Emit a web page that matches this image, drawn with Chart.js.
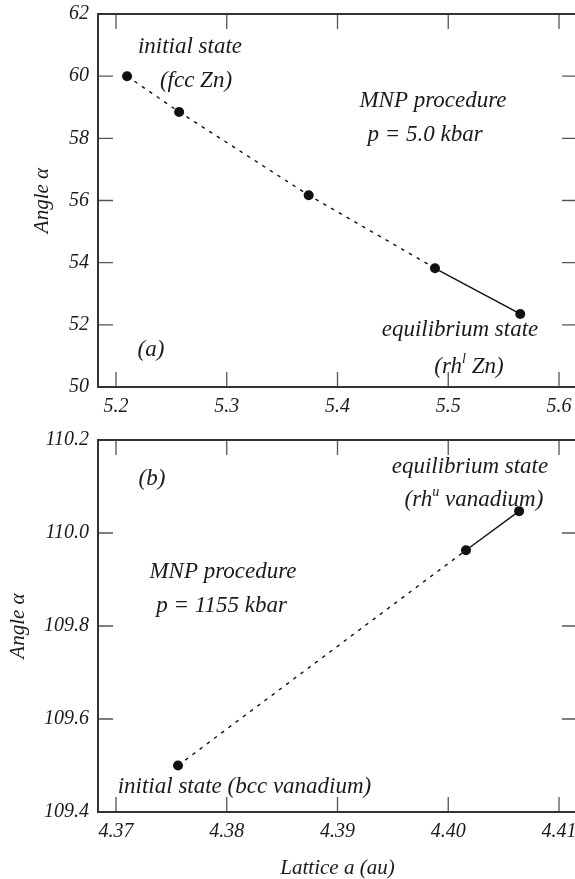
<!DOCTYPE html>
<html>
<head>
<meta charset="utf-8">
<script src="https://cdn.jsdelivr.net/npm/chart.js@4.4.1/dist/chart.umd.min.js"></script>
<style>
  html, body { margin: 0; padding: 0; background: #fff; overflow: hidden; }
  canvas { position: absolute; left: 0; }
  #zincChart { top: 0; }
  #vanadiumChart { top: 430px; }
</style>
</head>
<body>
<canvas id="zincChart" width="600" height="430"></canvas>
<canvas id="vanadiumChart" width="600" height="449"></canvas>
<script>
// panel (a): fcc Zn -> rh Zn, p = 5.0 kbar
const zincLattice = [5.210, 5.257, 5.374, 5.488, 5.565];
const zincAngle = [60.00, 58.85, 56.17, 53.82, 52.35];
const zincXTicks = [5.2, 5.3, 5.4, 5.5, 5.6];
const zincYTicks = [50, 52, 54, 56, 58, 60, 62];

// panel (b): bcc V -> rh V, p = 1155 kbar
const vanadiumLattice = [4.3756, 4.4016, 4.4064];
const vanadiumAngle = [109.500, 109.963, 110.047];
const vanadiumXTicks = [4.37, 4.38, 4.39, 4.40, 4.41];
const vanadiumYTicks = [109.4, 109.6, 109.8, 110.0, 110.2];

const SERIF = "'Liberation Serif', 'Times New Roman', serif";
const INK = "#1a1a1a";

// text labels inside the plots, anchored in data units (centre, baseline)
const zincNotes = [
  { x: 5.2668, y: 60.74, parts: [["initial state"]] },
  { x: 5.2722, y: 59.64, parts: [["(fcc Zn)"]] },
  { x: 5.4862, y: 59.00, parts: [["MNP procedure"]] },
  { x: 5.4790, y: 57.93, parts: [["p = 5.0 kbar"]] },
  { x: 5.2316, y: 51.00, parts: [["(a)"]] },
  { x: 5.5106, y: 51.64, parts: [["equilibrium state"]] },
  { x: 5.5187, y: 50.46, parts: [["(rh"], ["l", true], [" Zn)"]] }
];
const vanadiumNotes = [
  { x: 4.37325, y: 110.103, parts: [["(b)"]] },
  { x: 4.40196, y: 110.129, parts: [["equilibrium state"]] },
  { x: 4.40232, y: 110.058, parts: [["(rh"], ["u", true], [" vanadium)"]] },
  { x: 4.37966, y: 109.903, parts: [["MNP procedure"]] },
  { x: 4.37953, y: 109.830, parts: [["p = 1155 kbar"]] },
  { x: 4.38160, y: 109.441, parts: [["initial state (bcc vanadium)"]] }
];

// box around the plot with inward ticks on all four sides
const framePlugin = {
  id: "frame",
  afterDatasetsDraw(chart) {
    const { ctx, chartArea: a, scales } = chart;
    ctx.save();
    ctx.strokeStyle = "#555";
    ctx.lineWidth = 1.3;
    ctx.beginPath();
    scales.x.ticks.forEach(t => {
      const px = scales.x.getPixelForValue(t.value);
      ctx.moveTo(px, a.bottom); ctx.lineTo(px, a.bottom - 15);
      ctx.moveTo(px, a.top); ctx.lineTo(px, a.top + 15);
    });
    scales.y.ticks.forEach(t => {
      const py = scales.y.getPixelForValue(t.value);
      ctx.moveTo(a.left, py); ctx.lineTo(a.left + 15, py);
      ctx.moveTo(a.right, py); ctx.lineTo(a.right - 15, py);
    });
    ctx.stroke();
    ctx.strokeStyle = "#333";
    ctx.lineWidth = 2;
    ctx.strokeRect(a.left, a.top, a.right - a.left, a.bottom - a.top);
    ctx.restore();
  }
};

function notesPlugin(notes) {
  return {
    id: "notes",
    afterDraw(chart) {
      const { ctx, scales } = chart;
      const big = "italic 23px " + SERIF;
      const small = "italic 14px " + SERIF;
      ctx.save();
      ctx.fillStyle = INK;
      ctx.textAlign = "left";
      ctx.textBaseline = "alphabetic";
      notes.forEach(n => {
        const px = scales.x.getPixelForValue(n.x);
        const py = scales.y.getPixelForValue(n.y);
        let total = 0;
        n.parts.forEach(p => { ctx.font = p[1] ? small : big; total += ctx.measureText(p[0]).width; });
        let x = px - total / 2;
        n.parts.forEach(p => {
          ctx.font = p[1] ? small : big;
          ctx.fillText(p[0], x, p[1] ? py - 10 : py);
          x += ctx.measureText(p[0]).width;
        });
      });
      ctx.restore();
    }
  };
}

function makeChart(id, xs, ys, opts) {
  const last = xs.length - 1;
  const tickFont = { family: SERIF, size: 20, style: "italic" };
  const titleFont = { family: SERIF, size: 21, style: "italic" };
  return new Chart(document.getElementById(id), {
    type: "scatter",
    data: {
      datasets: [{
        data: xs.map((x, i) => ({ x: x, y: ys[i] })),
        showLine: true,
        borderColor: "#111",
        borderWidth: 1.4,
        pointRadius: 5,
        pointBackgroundColor: "#111",
        pointBorderWidth: 0,
        segment: {
          borderDash: c => (c.p1DataIndex < last ? [3.5, 5.5] : [])
        }
      }]
    },
    options: {
      responsive: false,
      animation: false,
      layout: { padding: { left: 0, top: opts.top, right: 23, bottom: 0 } },
      plugins: { legend: { display: false }, tooltip: { enabled: false } },
      scales: {
        x: {
          type: "linear",
          min: opts.xMin,
          max: opts.xMax,
          afterBuildTicks: s => { s.ticks = opts.xTicks.map(v => ({ value: v })); },
          afterFit: s => { s.height = opts.xHeight; s.paddingLeft = 0; s.paddingRight = 0; },
          grid: { display: false, drawTicks: false },
          border: { display: false },
          ticks: {
            padding: 8,
            color: INK,
            font: tickFont,
            maxRotation: 0,
            callback: v => Number(v).toFixed(opts.xDigits)
          },
          title: {
            display: !!opts.xTitle,
            text: opts.xTitle || "",
            color: INK,
            font: titleFont,
            padding: { top: 0, bottom: -2 }
          }
        },
        y: {
          min: opts.yMin,
          max: opts.yMax,
          afterBuildTicks: s => { s.ticks = opts.yTicks.map(v => ({ value: v })); },
          afterFit: s => { s.width = 98; s.paddingTop = 0; s.paddingBottom = 0; },
          grid: { display: false, drawTicks: false },
          border: { display: false },
          ticks: {
            padding: 9,
            color: INK,
            font: tickFont,
            callback: v => Number(v).toFixed(opts.yDigits)
          },
          title: {
            display: true,
            text: "Angle α",
            color: INK,
            font: titleFont,
            padding: { top: opts.yTitlePad, bottom: 0 }
          }
        }
      }
    },
    plugins: [framePlugin, notesPlugin(opts.notes)]
  });
}

makeChart("zincChart", zincLattice, zincAngle, {
  top: 14, xHeight: 43, yTitlePad: 30,
  xMin: 5.18375, xMax: 5.61625, xTicks: zincXTicks, xDigits: 1,
  yMin: 50, yMax: 62, yTicks: zincYTicks, yDigits: 0,
  notes: zincNotes
});

makeChart("vanadiumChart", vanadiumLattice, vanadiumAngle, {
  top: 10, xHeight: 67, yTitlePad: 6,
  xMin: 4.368375, xMax: 4.411625, xTicks: vanadiumXTicks, xDigits: 2,
  yMin: 109.4, yMax: 110.2, yTicks: vanadiumYTicks, yDigits: 1,
  xTitle: "Lattice a (au)",
  notes: vanadiumNotes
});
</script>
</body>
</html>
